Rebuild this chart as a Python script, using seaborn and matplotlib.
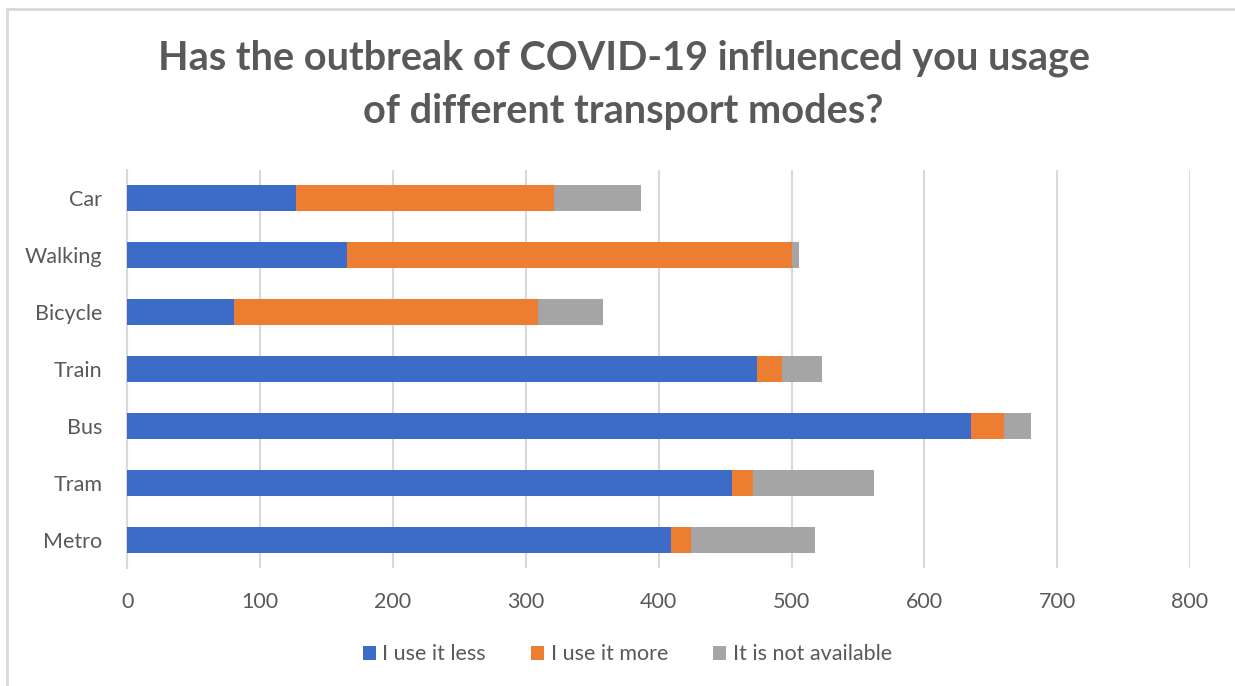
import matplotlib
matplotlib.use("Agg")
import matplotlib.pyplot as plt
from matplotlib.lines import Line2D
from matplotlib.patches import Patch
import pandas as pd
import seaborn as sns

modes = ["Car", "Walking", "Bicycle", "Train", "Bus", "Tram", "Metro"]
use_less = [127, 165, 80, 474, 635, 455, 409]
use_more = [194, 335, 229, 19, 25, 16, 15]
not_available = [66, 6, 49, 30, 20, 91, 94]
x_ticks = [0, 100, 200, 300, 400, 500, 600, 700, 800]
series_names = ["I use it less", "I use it more", "It is not available"]
title_lines = ["Has the outbreak of COVID-19 influenced you usage",
               "of different transport modes?"]

BLUE = "#3D6CC8"
ORANGE = "#ED7D31"
GRAY = "#A5A5A5"
TEXT = "#595959"
GRID = "#D9D9D9"

sns.set_style("white")
plt.rcParams["font.family"] = ["Lato", "DejaVu Sans"]

df = pd.DataFrame({
    "mode": modes,
    "less": use_less,
    "more": use_more,
    "na": not_available,
})
# cumulative ends for stacking with seaborn
df["end_less"] = df["less"]
df["end_more"] = df["less"] + df["more"]
df["end_na"] = df["end_more"] + df["na"]

W, H = 1235, 686
fig = plt.figure(figsize=(W / 100, H / 100), dpi=100)
ax = fig.add_axes([0.1031, 0.1713, 0.8605, 0.5816])

for col, color in [("end_na", GRAY), ("end_more", ORANGE), ("end_less", BLUE)]:
    sns.barplot(data=df, x=col, y="mode", orient="h", color=color,
                width=0.47, ax=ax, saturation=1, linewidth=0, zorder=3)

ax.set_xlim(0, 800)
ax.set_xticks(x_ticks)
ax.set_xticklabels([str(t) for t in x_ticks])
ax.set_xlabel("")
ax.set_ylabel("")
ax.grid(axis="x", color=GRID, linewidth=1.5, zorder=0)
ax.grid(axis="y", visible=False)
for side in ["top", "right", "bottom"]:
    ax.spines[side].set_visible(False)
ax.spines["left"].set_color(GRID)
ax.spines["left"].set_linewidth(1.5)
ax.tick_params(axis="both", length=0, labelsize=15.5, labelcolor=TEXT)
ax.tick_params(axis="x", pad=17)
ax.tick_params(axis="y", pad=18)

for line, ypix in zip(title_lines, [58, 112]):
    fig.text(0.505, 1 - ypix / H, line, ha="center", va="center",
             fontsize=28.5, fontweight="bold", color=TEXT)

handles = [Patch(facecolor=c, edgecolor="none") for c in (BLUE, ORANGE, GRAY)]
fig.legend(handles, series_names, loc="center", bbox_to_anchor=(0.508, 0.046),
           ncol=3, frameon=False, fontsize=15.5, labelcolor=TEXT,
           handlelength=0.6, handleheight=0.6, handletextpad=0.3,
           columnspacing=2.1)

# chart border (only top and left edges are inside the crop)
fig.add_artist(Line2D([6.5 / W, 1], [1 - 9 / H, 1 - 9 / H],
                      transform=fig.transFigure, color=GRID, linewidth=2))
fig.add_artist(Line2D([6.5 / W, 6.5 / W], [0, 1 - 9 / H],
                      transform=fig.transFigure, color=GRID, linewidth=2))

fig.savefig("out.png", dpi=100)
plt.close(fig)
